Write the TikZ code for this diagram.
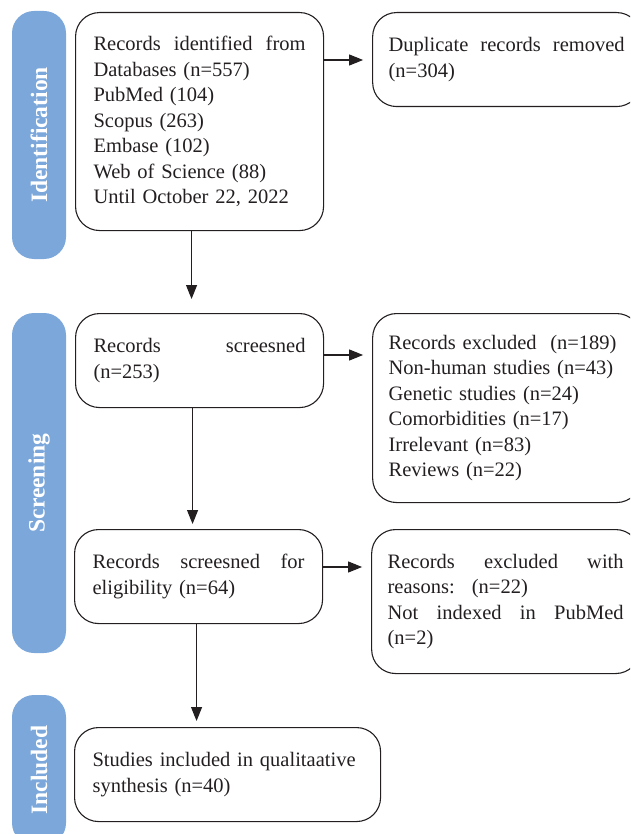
\documentclass[tikz,border=0pt]{standalone}
\usepackage{xcolor}
\definecolor{stagebar}{HTML}{7BA7DA}
\definecolor{ink}{HTML}{231F20}
\usepackage{fontspec}
\setmainfont{Liberation Serif}
\usepackage{tikz}
\usetikzlibrary{arrows.meta,positioning,calc}

\begin{document}
\begin{tikzpicture}[
  x=1pt, y=-1pt,
  font=\fontsize{20.5}{25.5}\selectfont, text=ink,
  stage/.style={fill=stagebar, rounded corners=22pt, rotate=90,
    minimum height=54pt, inner sep=0pt, text=white,
    font=\fontsize{23.5}{26}\selectfont\bfseries},
  flowbox/.style={draw=ink, line width=1.1pt, rounded corners=24pt,
    anchor=north west, align=left, inner xsep=18pt, inner ysep=0pt},
  outbox/.style={flowbox, inner xsep=16pt, text width=236pt},
  arr/.style={-{Triangle[length=14pt,width=11pt]}, ink, line width=1.1pt}
]
\path[use as bounding box, clip] (0,0) rectangle (630,834);

\node[stage, minimum width=248pt] (sid) at (39,135) {Identification};
\node[stage, minimum width=340pt] (sscr) at (39,483) {Screening};
\node[stage, minimum width=150pt] (sinc) at (39,770) {Included};

\node[flowbox, text width=212pt, minimum height=218pt] (idf) at (75,12)
  {Records\hfill identified\hfill from\\Databases (n=557)\\PubMed (104)\\Scopus (263)\\Embase (102)\\Web of Science (88)\\Until October 22, 2022};
\node[flowbox, text width=212pt, minimum height=94pt] (scr) at (75,313)
  {Records\hfill screesned\\(n=253)};
\node[flowbox, text width=212pt, minimum height=94pt] (elig) at (74,529)
  {Records\hfill screesned\hfill for\\eligibility (n=64)};
\node[flowbox, text width=270pt, minimum height=94pt] (incl) at (74,727)
  {Studies included in qualitaative\\synthesis (n=40)};

\node[outbox, minimum height=94pt] (dup) at ([xshift=48pt]idf.north east)
  {Duplicate\hfill records\hfill removed\\(n=304)};
\node[outbox, minimum height=189pt] (exc) at ([xshift=48pt]scr.north east)
  {Records excluded~ (n=189)\\Non-human studies (n=43)\\Genetic studies (n=24)\\Comorbidities (n=17)\\Irrelevant (n=83)\\Reviews (n=22)};
\node[outbox, minimum height=144pt] (exc2) at ([xshift=48pt]elig.north east)
  {Records\hfill excluded\hfill with\\reasons:~ (n=22)\\Not\hfill indexed\hfill in\hfill PubMed\\(n=2)};

\draw[arr, shorten >=9pt] ([yshift=-48pt]idf.north east) -- ([yshift=-48pt]dup.north west);
\draw[arr, shorten >=9pt] ([yshift=-42pt]scr.north east) -- ([yshift=-42pt]exc.north west);
\draw[arr, shorten >=9pt] ([yshift=-38pt]elig.north east) -- ([yshift=-38pt]exc2.north west);

\draw[arr, shorten >=14pt] ([xshift=-8pt]idf.south) -- ([xshift=-8pt]idf.south |- scr.north);
\draw[arr, shorten >=5pt] ([xshift=-7pt]scr.south) -- ([xshift=-7pt]scr.south |- elig.north);
\draw[arr, shorten >=6pt] ([xshift=-2pt]elig.south) -- ([xshift=-2pt]elig.south |- incl.north);
\end{tikzpicture}
\end{document}
